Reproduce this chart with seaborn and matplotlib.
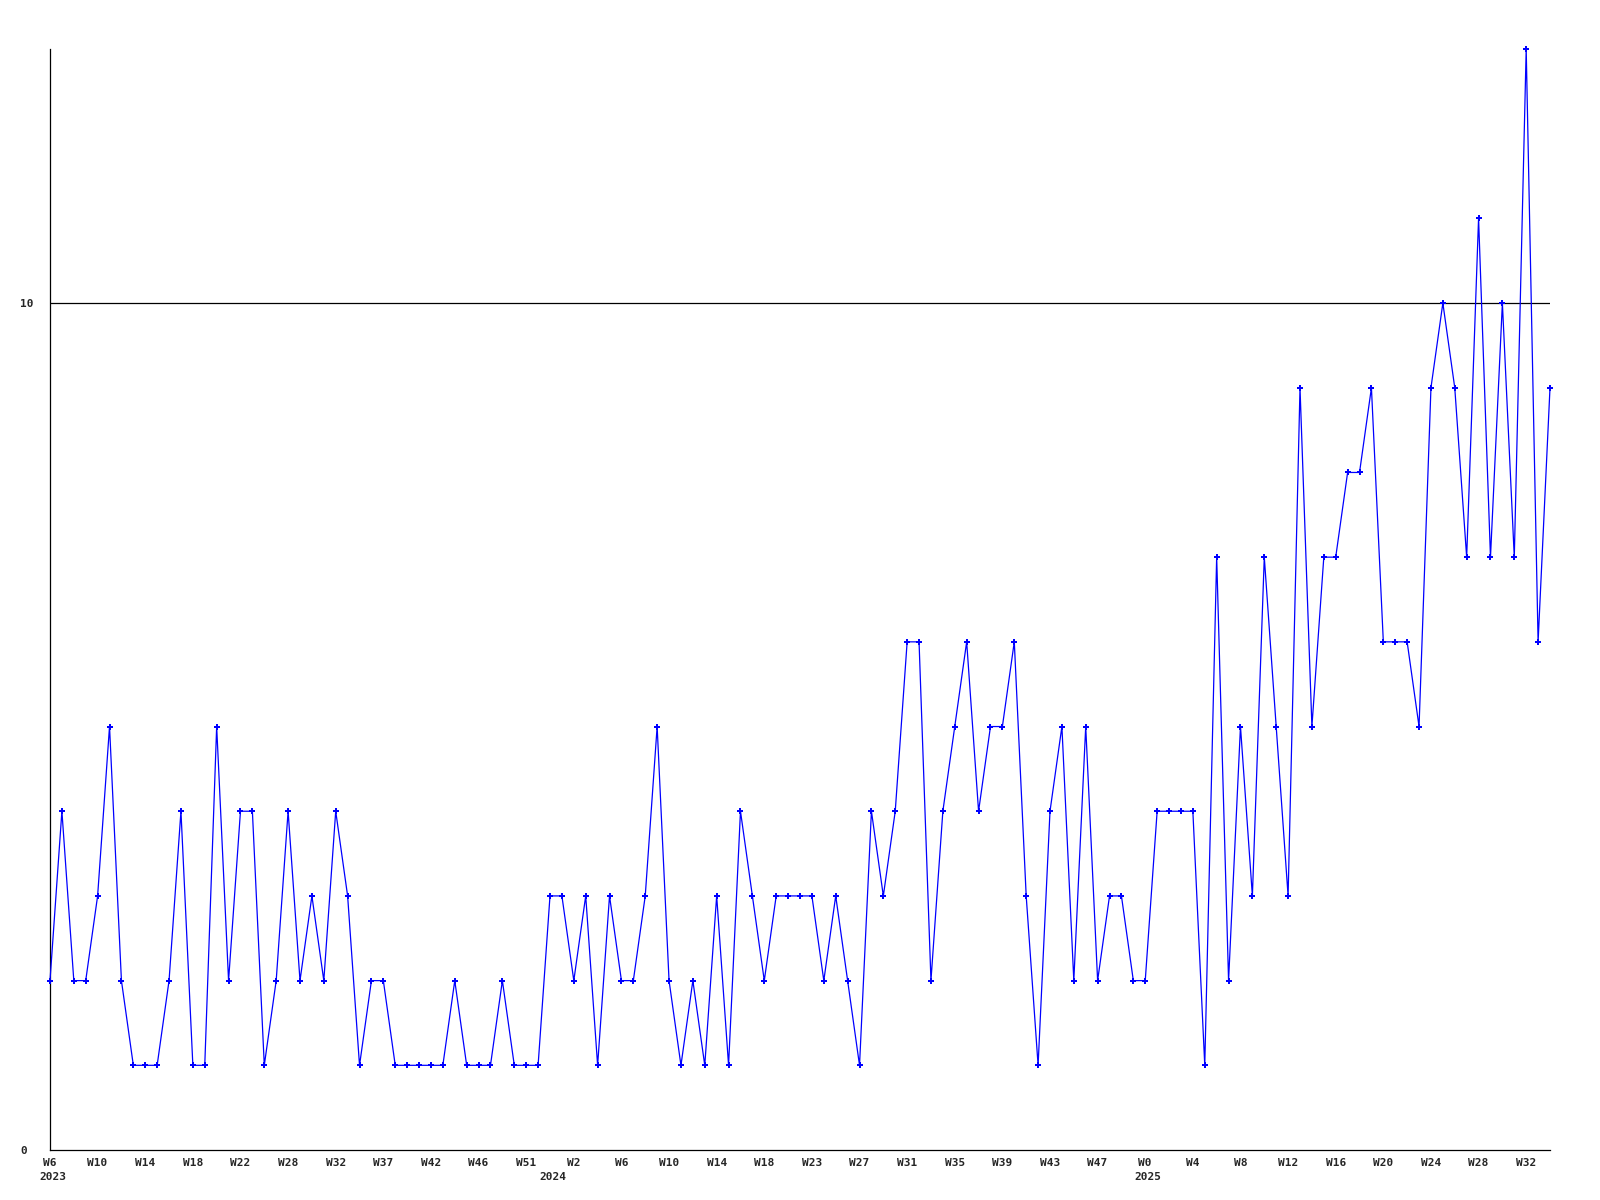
import numpy as np
import pandas as pd
import seaborn as sns
import matplotlib.pyplot as plt

# Valores semanales (conteos)
values = [2, 4, 2, 2, 3, 5, 2, 1, 1, 1, 2, 4, 1, 1, 5, 2, 4, 4, 1, 2,
          4, 2, 3, 2, 4, 3, 1, 2, 2, 1, 1, 1, 1, 1, 2, 1, 1, 1, 2, 1,
          1, 1, 3, 3, 2, 3, 1, 3, 2, 2, 3, 5, 2, 1, 2, 1, 3, 1, 4, 3,
          2, 3, 3, 3, 3, 2, 3, 2, 1, 4, 3, 4, 6, 6, 2, 4, 5, 6, 4, 5,
          5, 6, 3, 1, 4, 5, 2, 5, 2, 3, 3, 2, 2, 4, 4, 4, 4, 1, 7, 2,
          5, 3, 7, 5, 3, 9, 5, 7, 7, 8, 8, 9, 6, 6, 6, 5, 9, 10, 9, 7,
          11, 7, 10, 7, 13, 6, 9]

week_labels = ["W6", "W10", "W14", "W18", "W22", "W28", "W32", "W37", "W42",
               "W46", "W51", "W2", "W6", "W10", "W14", "W18", "W23", "W27",
               "W31", "W35", "W39", "W43", "W47", "W0", "W4", "W8", "W12",
               "W16", "W20", "W24", "W28", "W32"]
year_labels = ["2023", "2024", "2025"]
year_pos = [0, 42, 92]

df = pd.DataFrame({"idx": np.arange(len(values)), "val": values})

sns.set_style("white")
plt.rcParams["font.family"] = ["DejaVu Sans Mono"]
plt.rcParams["font.weight"] = "bold"
plt.rcParams["font.size"] = 8

fig = plt.figure(figsize=(16, 12), dpi=100)
ax = fig.add_axes([50 / 1600, 1 - 1150 / 1200, 1500 / 1600, 1101 / 1200])

ax.axhline(10, color="black", lw=0.9, zorder=1)
sns.lineplot(data=df, x="idx", y="val", ax=ax, color="blue", lw=0.9,
             marker="P", markersize=4.5, markeredgewidth=0, clip_on=False, zorder=3)

ax.set_xlim(0, len(values) - 1)
ax.set_ylim(0, 13)
ax.set_xlabel("")
ax.set_ylabel("")

for s in ["top", "right"]:
    ax.spines[s].set_visible(False)
for s in ["left", "bottom"]:
    ax.spines[s].set_color("black")
    ax.spines[s].set_linewidth(0.9)

# Semanas cada 4 puntos
ax.set_xticks(np.arange(0, len(values), 4)[:len(week_labels)])
ax.set_xticklabels(week_labels)
ax.tick_params(axis="x", length=0, pad=6)

# Años en segunda línea
for pos, yl in zip(year_pos, year_labels):
    ax.annotate(yl, xy=(pos, 0), xycoords=("data", "axes fraction"),
                xytext=(2, -16), textcoords="offset points",
                ha="center", va="top", fontweight="bold")

ax.set_yticks([0, 10])
ax.set_yticklabels(["0", "10"])
ax.tick_params(axis="y", length=0, pad=21.5)
for lab in ax.get_yticklabels():
    lab.set_horizontalalignment("left")

fig.savefig("out.png", dpi=100, facecolor="white")
plt.close()
